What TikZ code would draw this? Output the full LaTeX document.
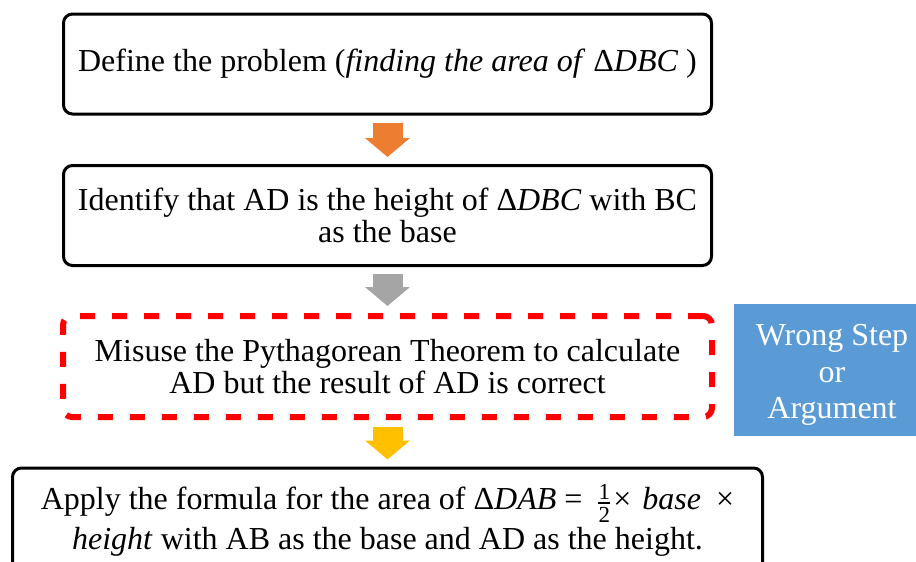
\documentclass[tikz,border=0pt]{standalone}
\usepackage{fontspec}
\setmainfont{Liberation Serif}
\usetikzlibrary{arrows.meta}
\definecolor{aorange}{HTML}{ED7D31}
\definecolor{agray}{HTML}{A5A5A5}
\definecolor{ayellow}{HTML}{FFC000}
\definecolor{ablue}{HTML}{5B9BD5}
\newcommand{\mi}[1]{\textit{#1}}
\newcommand{\halfrac}{\ensuremath{\vcenter{\hbox{\fontsize{23}{23}\selectfont
  \vbox{\baselineskip=0pt\lineskiplimit=0pt\lineskip=3pt
  \halign{\hfil##\hfil\cr 1\cr\rule{12pt}{1.7pt}\cr 2\cr}}}}}}
\begin{document}
\begin{tikzpicture}[x=1pt,y=-1pt,
  box/.style={draw=black, line width=3pt, rounded corners=9pt, align=center,
    font=\fontsize{32}{31.5}\selectfont, inner sep=0pt},
  wrongbox/.style={draw=red, line width=6pt, dash pattern=on 15pt off 17pt,
    rounded corners=9pt, align=center, font=\fontsize{32}{31.5}\selectfont, inner sep=0pt},
  tagtext/.style={text=white, align=center, inner sep=0pt,
    font=\fontsize{32}{36.5}\selectfont},
  blockarrow/.style={line width=30pt, -{Triangle[width=44pt,length=19pt]},
    shorten <=7pt, shorten >=7pt}
]
\useasboundingbox (0,0) rectangle (916,562);
\clip (0,0) rectangle (916,562);

\node[box, minimum width=648pt, minimum height=100pt] (b1) at (387.5,64)
  {Define the problem (\mi{finding the area of} Δ\mi{DBC} )};
\node[box, minimum width=648pt, minimum height=100pt] (b2) at (387.5,215.5)
  {Identify that AD is the height of Δ\mi{DBC} with BC\\as the base};
\node[wrongbox, minimum width=649pt, minimum height=101pt] (b3) at (387.5,366.5)
  {Misuse the Pythagorean Theorem to calculate\\AD but the result of AD is correct};
\node[box, minimum width=750pt, minimum height=104pt] (b4) at (387.5,520)
  {Apply the formula for the area of Δ\mi{DAB}\hspace{8pt}=\hspace{16pt}\halfrac\hspace{3pt}×\hspace{11pt}\mi{base}\hspace{15pt}×\\[4pt]
   \mi{height} with AB as the base and AD as the height.};
\fill[ablue] (734,304) rectangle (930,436);
\node[tagtext] (w) at (832,375) {Wrong Step\\or\\Argument};

\draw[blockarrow, aorange] (b1.south) -- (b2.north);
\draw[blockarrow, agray] (b2.south) -- (b3.north);
\draw[blockarrow, ayellow] (b3.south) -- (b4.north);
\end{tikzpicture}
\end{document}
